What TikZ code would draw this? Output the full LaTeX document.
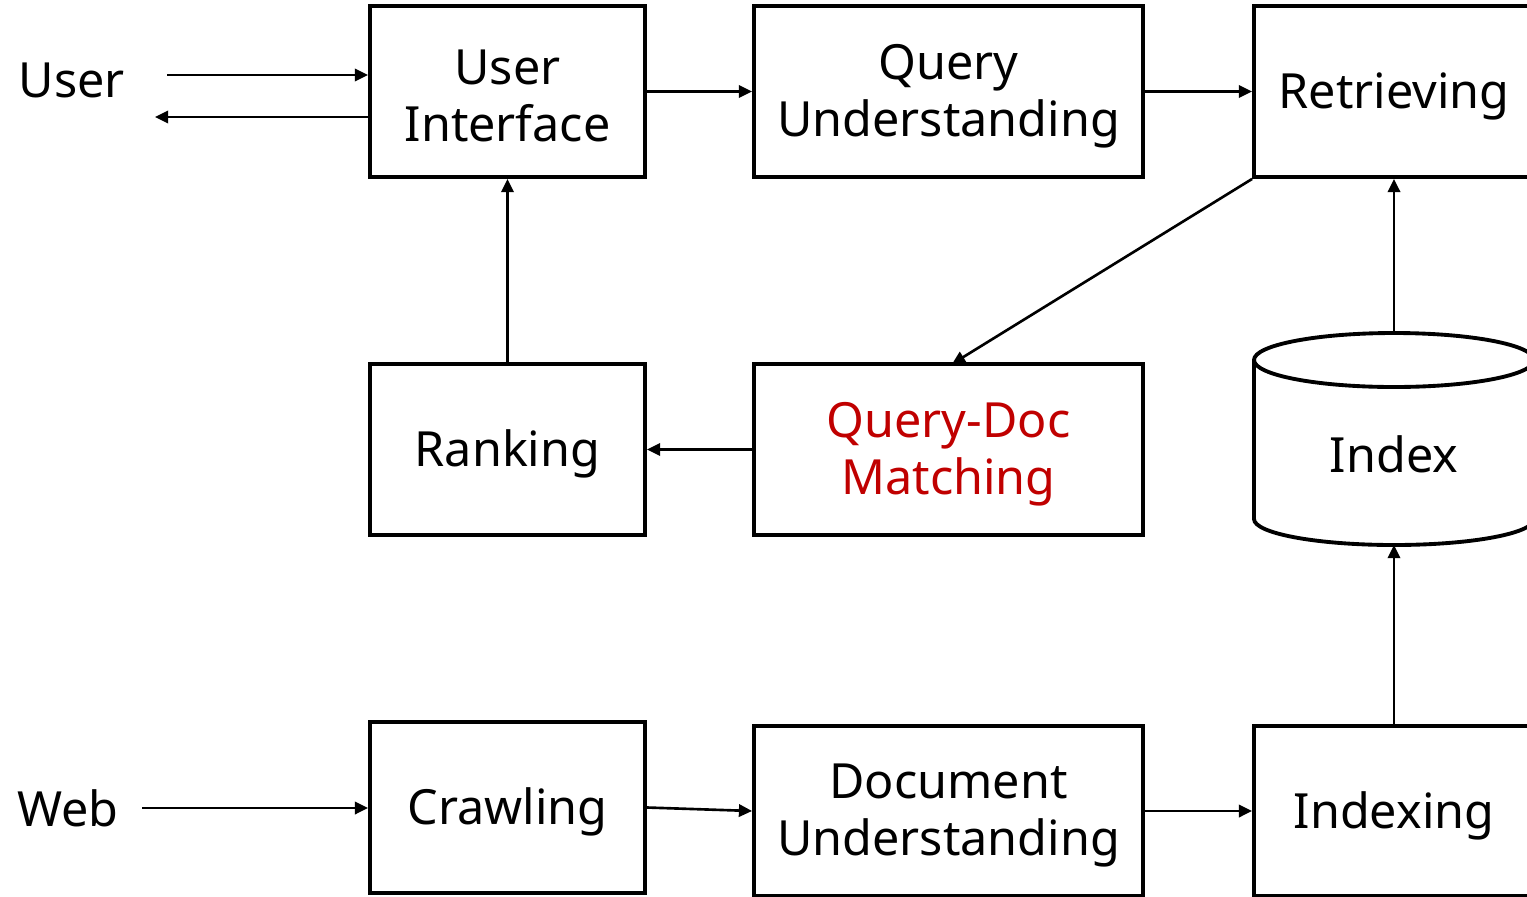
\documentclass[tikz,border=0pt]{standalone}
\usepackage{fontspec}
\setmainfont{Noto Sans}
\usetikzlibrary{arrows.meta}
\definecolor{qred}{RGB}{192,0,0}
\begin{document}
\begin{tikzpicture}[x=0.02cm,y=-0.02cm,
  box/.style={draw,line width=2.2pt,minimum height=171*0.02cm,inner sep=0pt},
  txt/.style={font=\fontsize{27.6}{32.5}\selectfont,inner sep=0pt,align=center,yshift=-2.6pt},
  lbl/.style={font=\fontsize{27.6}{32.5}\selectfont,inner sep=0pt},
  conn/.style={line width=1.5pt,-{Triangle[length=7.5pt,width=7pt]}}]
\clip (0,0) rectangle (1527,896);
\node[box,minimum width=275*0.02cm,label={[txt]center:User\\Interface}] (ui) at (507.5,91.5) {};
\node[box,minimum width=389*0.02cm,label={[txt]center:Query\\Understanding}] (qu) at (948.5,91.5) {};
\node[box,minimum width=280*0.02cm,label={[txt]center:Retrieving}] (ret) at (1394,91.5) {};
\node[box,minimum width=275*0.02cm,label={[txt]center:Ranking}] (rank) at (507.5,449.5) {};
\node[box,minimum width=389*0.02cm,label={[txt,text=qred]center:Query-Doc\\Matching}] (qdm) at (948.5,449.5) {};
\node[box,minimum width=275*0.02cm,label={[txt]center:Crawling}] (crawl) at (507.5,807.5) {};
\node[box,minimum width=389*0.02cm,minimum height=170*0.02cm,label={[txt]center:Document\\Understanding}] (du) at (948.5,811) {};
\node[box,minimum width=280*0.02cm,minimum height=170*0.02cm,label={[txt]center:Indexing}] (idxing) at (1394,811) {};
% cylinder
\draw[line width=2.2pt,fill=white] (1254,360) -- (1254,519) arc[start angle=180,end angle=360,x radius=140,y radius=-26] -- (1534,360);
\draw[line width=2.2pt] (1394,360) ellipse[x radius=140,y radius=27];
\coordinate (idxtop) at (1394,333);
\coordinate (idxbot) at (1394,545);
\node[lbl] (idx) at (1394,454) {Index};
\node[lbl] (user) at (72,80) {User};
\node[lbl] (web) at (68,808) {Web};
\coordinate (u1) at (167,75);
\coordinate (u2) at (155,117);
\coordinate (w1) at (142,808);
% connectors
\draw[conn] (u1) -- (u1 -| ui.west);
\draw[conn] (u2 -| ui.west) -- (u2);
\draw[conn] (ui.east) -- (qu.west);
\draw[conn] (qu.east) -- (ret.west);
\draw[conn] (ret.south west) -- (952,364);
\draw[conn] (qdm.west) -- (rank.east);
\draw[conn] (rank.north) -- (ui.south);
\draw[conn] (w1) -- (w1 -| crawl.west);
\draw[conn] (crawl.east) -- (du.west);
\draw[conn] (du.east) -- (idxing.west);
\draw[conn] (idxing.north) -- (idxbot);
\draw[conn] (idxtop) -- (ret.south);
\end{tikzpicture}
\end{document}
